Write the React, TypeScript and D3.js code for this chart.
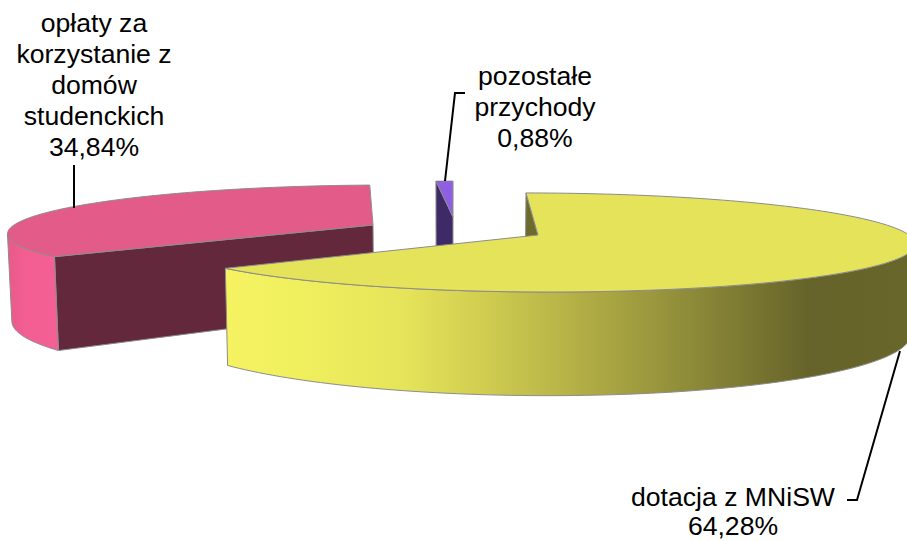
import React, { useMemo } from "react";
import * as d3 from "d3";

const W = 907;
const H = 541;

const categories = ["dotacja z MNiSW", "opłaty za korzystanie z domów studenckich", "pozostałe przychody"];
const values = [64.28, 34.84, 0.88];
const valueLabels = ["64,28%", "34,84%", "0,88%"];

const sliceKeys = ["yellow", "pink", "purple"];
const geometry: Record<string, any> = {
  yellow: { cx: 538, cy: 235, R: 371, ry: 48.4, lean: 12, depth: 88, outer: "right" },
  pink: { cx: 373, cy: 225, R: 359, ry: 46, lean: -14, depth: 85, outer: "left" },
  purple: { cx: 453, cy: 217, R: 355, ry: 41.4, lean: 0, depth: 89, outer: null },
};
const topColours: Record<string, string> = { yellow: "#e4e35a", pink: "#e35b89", purple: "#8f5fe3" };
const faceColours: Record<string, string> = { yellow: "#6e6a2c", pink: "#63283b", purple: "#3e2a66" };
const yellowStopX = [225, 300, 400, 470, 560, 650, 740, 810, 910];
const yellowStopC = ["#f5f361", "#f0ef5e", "#e6e55a", "#d4d152", "#b9b548", "#9b983e", "#7d7a33", "#66632a", "#69662b"];
const pinkStopX = [10, 25, 54];
const pinkStopC = ["#ea5a8b", "#f25e91", "#f56094"];

const labelLines = [
  { x: 94, ys: [32, 63, 94, 125, 156], lines: ["opłaty za", "korzystanie z", "domów", "studenckich", valueLabels[1]] },
  { x: 535, ys: [85, 116, 147], lines: ["pozostałe", "przychody", valueLabels[2]] },
  { x: 733, ys: [506, 535], lines: ["dotacja z MNiSW", valueLabels[0]] },
];
const leaders = [
  [[74, 165], [74, 208]],
  [[465, 93], [455, 93], [445, 181]],
  [[847, 500], [857, 500], [900, 351]],
];

const PERSP = 0.151;
const CONVERGE = 0.01;
const VANISH_X = 450;

type Pt = [number, number];

function topPoint(g: any, deg: number, r = 1): Pt {
  const t = (deg * Math.PI) / 180;
  const X = Math.sin(t) * r;
  const Y = -Math.cos(t) * r;
  const s = 1 / (1 - PERSP * Y);
  return [g.cx + g.R * X * s + g.lean * Y, g.cy + g.ry * Y * s];
}
function bottomPoint(g: any, deg: number, r = 1): Pt {
  const t = (deg * Math.PI) / 180;
  const Y = -Math.cos(t) * r;
  const s = 1 / (1 - PERSP * Y);
  const [x, y] = topPoint(g, deg, r);
  return [x + (VANISH_X - x) * CONVERGE, y + g.depth * s];
}

const line = d3.line<Pt>();

export default function App() {
  const slices = useMemo(() => {
    const pie = d3.pie<number>().sort(null).startAngle(0).endAngle(2 * Math.PI);
    return pie(values).map((a, i) => ({
      key: sliceKeys[i],
      name: categories[i],
      a0: (a.startAngle * 180) / Math.PI,
      a1: (a.endAngle * 180) / Math.PI,
    }));
  }, []);
  const stroke = "#8c8c8c";
  const order = ["pink", "purple", "yellow"];

  return (
    <svg width={W} height={H} viewBox={`0 0 ${W} ${H}`} style={{ position: "fixed", left: 0, top: 0, background: "#fff" }}>
      <defs>
        <linearGradient id="g-yellow" gradientUnits="userSpaceOnUse" x1={yellowStopX[0]} x2={yellowStopX[yellowStopX.length - 1]} y1={0} y2={0}>
          {yellowStopX.map((x, i) => (
            <stop key={i} offset={(x - yellowStopX[0]) / (yellowStopX[yellowStopX.length - 1] - yellowStopX[0])} stopColor={yellowStopC[i]} />
          ))}
        </linearGradient>
        <linearGradient id="g-pink" gradientUnits="userSpaceOnUse" x1={pinkStopX[0]} x2={pinkStopX[2]} y1={0} y2={0}>
          {pinkStopX.map((x, i) => (
            <stop key={i} offset={(x - pinkStopX[0]) / (pinkStopX[2] - pinkStopX[0])} stopColor={pinkStopC[i]} />
          ))}
        </linearGradient>
      </defs>
      {order.map((k) => {
        const sl = slices.find((s) => s.key === k)!;
        const g = geometry[k];
        const apexT: Pt = [g.cx, g.cy];
        const apexB: Pt = bottomPoint(g, 0, 0);
        const arc = d3.range(0, 161).map((i) => sl.a0 + ((sl.a1 - sl.a0) * i) / 160);
        const topPath = line([apexT, ...arc.map((d) => topPoint(g, d))]) + "Z";
        // every slice shows the cut face at its starting angle
        const facePath = line([apexT, topPoint(g, sl.a0), bottomPoint(g, sl.a0), apexB]) + "Z";
        let outerPath: string | null = null;
        if (g.outer) {
          // the visible rim runs from the slice's silhouette tangent to its front edge
          const tangent = g.outer === "right"
            ? d3.greatest(arc, (d) => topPoint(g, d)[0])!
            : d3.least(arc, (d) => topPoint(g, d)[0])!;
          const o = arc.filter((d) => (g.outer === "right" ? d >= tangent : d <= tangent));
          outerPath = line([...o.map((d) => topPoint(g, d)), ...o.slice().reverse().map((d) => bottomPoint(g, d))]) + "Z";
        }
        return (
          <g key={k}>
            <title>{sl.name}</title>
            <path d={facePath} fill={faceColours[k]} stroke={stroke} strokeWidth={1} strokeLinejoin="round" />
            {outerPath && <path d={outerPath} fill={`url(#g-${k})`} stroke={stroke} strokeWidth={1} strokeLinejoin="round" />}
            <path d={topPath} fill={topColours[k]} stroke={stroke} strokeWidth={1} strokeLinejoin="round" />
          </g>
        );
      })}
      {leaders.map((l, i) => (
        <path key={i} d={line(l as Pt[])!} fill="none" stroke="#000" strokeWidth={2} />
      ))}
      {labelLines.map((l, i) => (
        <text key={i} textAnchor="middle" fontFamily="'Liberation Sans', Arial, sans-serif" fontSize={26.6} fill="#000">
          {l.lines.map((t, j) => (
            <tspan key={j} x={l.x} y={l.ys[j]}>{t}</tspan>
          ))}
        </text>
      ))}
    </svg>
  );
}
